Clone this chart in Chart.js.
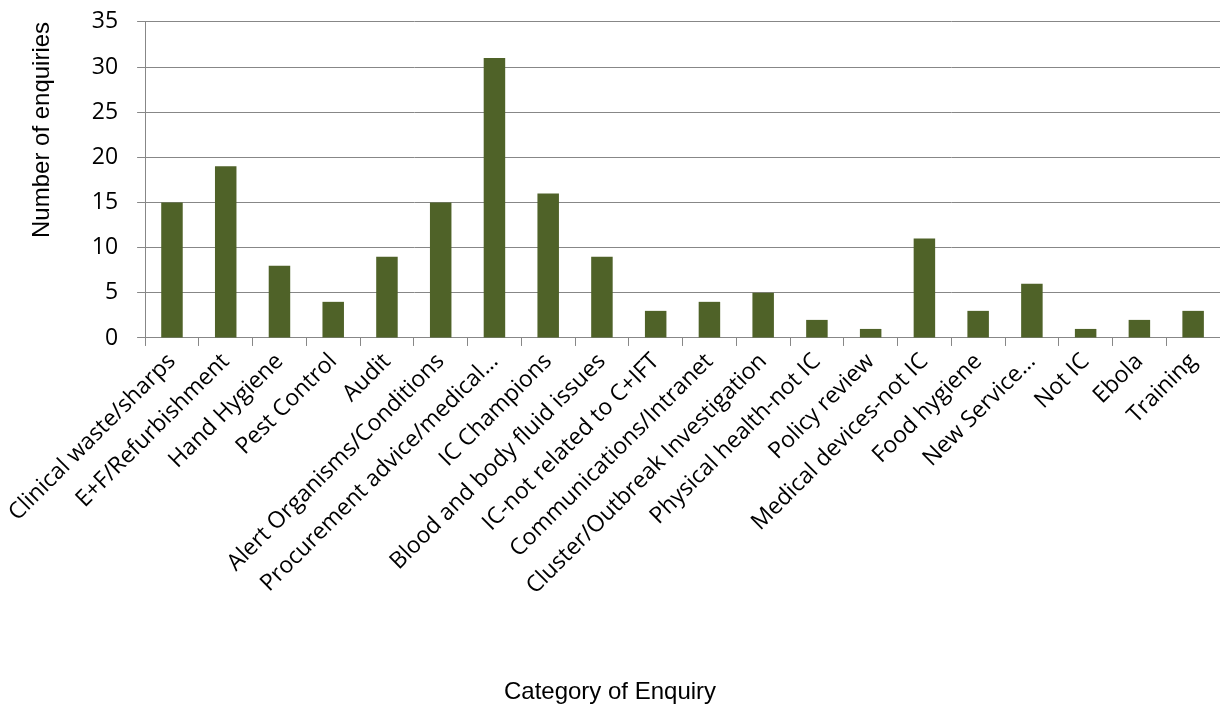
<!DOCTYPE html>
<html>
<head>
<meta charset="utf-8">
<script src="https://cdn.jsdelivr.net/npm/chart.js@4/dist/chart.umd.min.js"></script>
<style>
  html, body { margin: 0; padding: 0; background: #fff; }
  #wrap { width: 1220px; height: 704px; }
</style>
</head>
<body>
<div id="wrap"><canvas id="myChart"></canvas></div>
<script>
const categories = [
    'Clinical waste/sharps', 'E+F/Refurbishment', 'Hand Hygiene', 'Pest Control', 'Audit',
    'Alert Organisms/Conditions', 'Procurement advice/medical…', 'IC Champions',
    'Blood and body fluid issues', 'IC-not related to C+IFT', 'Communications/Intranet',
    'Cluster/Outbreak Investigation', 'Physical health-not IC', 'Policy review',
    'Medical devices-not IC', 'Food hygiene', 'New Service…', 'Not IC', 'Ebola', 'Training'
];
const enquiries = [15, 19, 8, 4, 9, 15, 31, 16, 9, 3, 4, 5, 2, 1, 11, 3, 6, 1, 2, 3];
const yTicks = { min: 0, max: 35, step: 5 };

const gridColor = '#878787';
const tickFont = { family: 'Open Sans', size: 23 };
const titleFont = { family: 'Liberation Sans', size: 24, weight: 'normal', lineHeight: 1.0 };

const ctx = document.getElementById('myChart').getContext('2d');

new Chart(ctx, {
    type: 'bar',
    data: {
        labels: categories,
        datasets: [{
            label: 'Number of enquiries',
            data: enquiries,
            backgroundColor: '#4F6228',
            barPercentage: 0.4,
            categoryPercentage: 1.0
        }]
    },
    options: {
        responsive: true,
        maintainAspectRatio: false,
        animation: false,
        layout: {
            padding: { top: 0, left: 0, right: 0, bottom: 0 }
        },
        plugins: {
            legend: { display: false },
            tooltip: { enabled: false },
            title: {
                display: true,
                position: 'bottom',
                text: 'Category of Enquiry',
                color: '#000',
                font: titleFont,
                padding: { top: 78, bottom: 0 }
            }
        },
        scales: {
            x: {
                grid: {
                    drawOnChartArea: false,
                    drawTicks: true,
                    tickLength: 8,
                    color: gridColor
                },
                border: { color: gridColor },
                ticks: {
                    color: '#000',
                    font: tickFont,
                    minRotation: 45,
                    maxRotation: 45,
                    autoSkip: false,
                    padding: 2
                }
            },
            y: {
                min: yTicks.min,
                max: yTicks.max,
                grid: {
                    color: gridColor,
                    tickLength: 8
                },
                border: { color: gridColor },
                ticks: {
                    stepSize: yTicks.step,
                    color: '#000',
                    // small line height so the top label doesn't push the plot down
                    font: { family: 'Open Sans', size: 23, lineHeight: 0.25 },
                    padding: 19
                },
                title: {
                    display: true,
                    text: 'Number of enquiries',
                    align: 'end',
                    color: '#000',
                    font: { family: 'Liberation Sans', size: 24, weight: 'normal' },
                    padding: { top: 28, bottom: 16 }
                }
            }
        }
    }
});
</script>
</body>
</html>
